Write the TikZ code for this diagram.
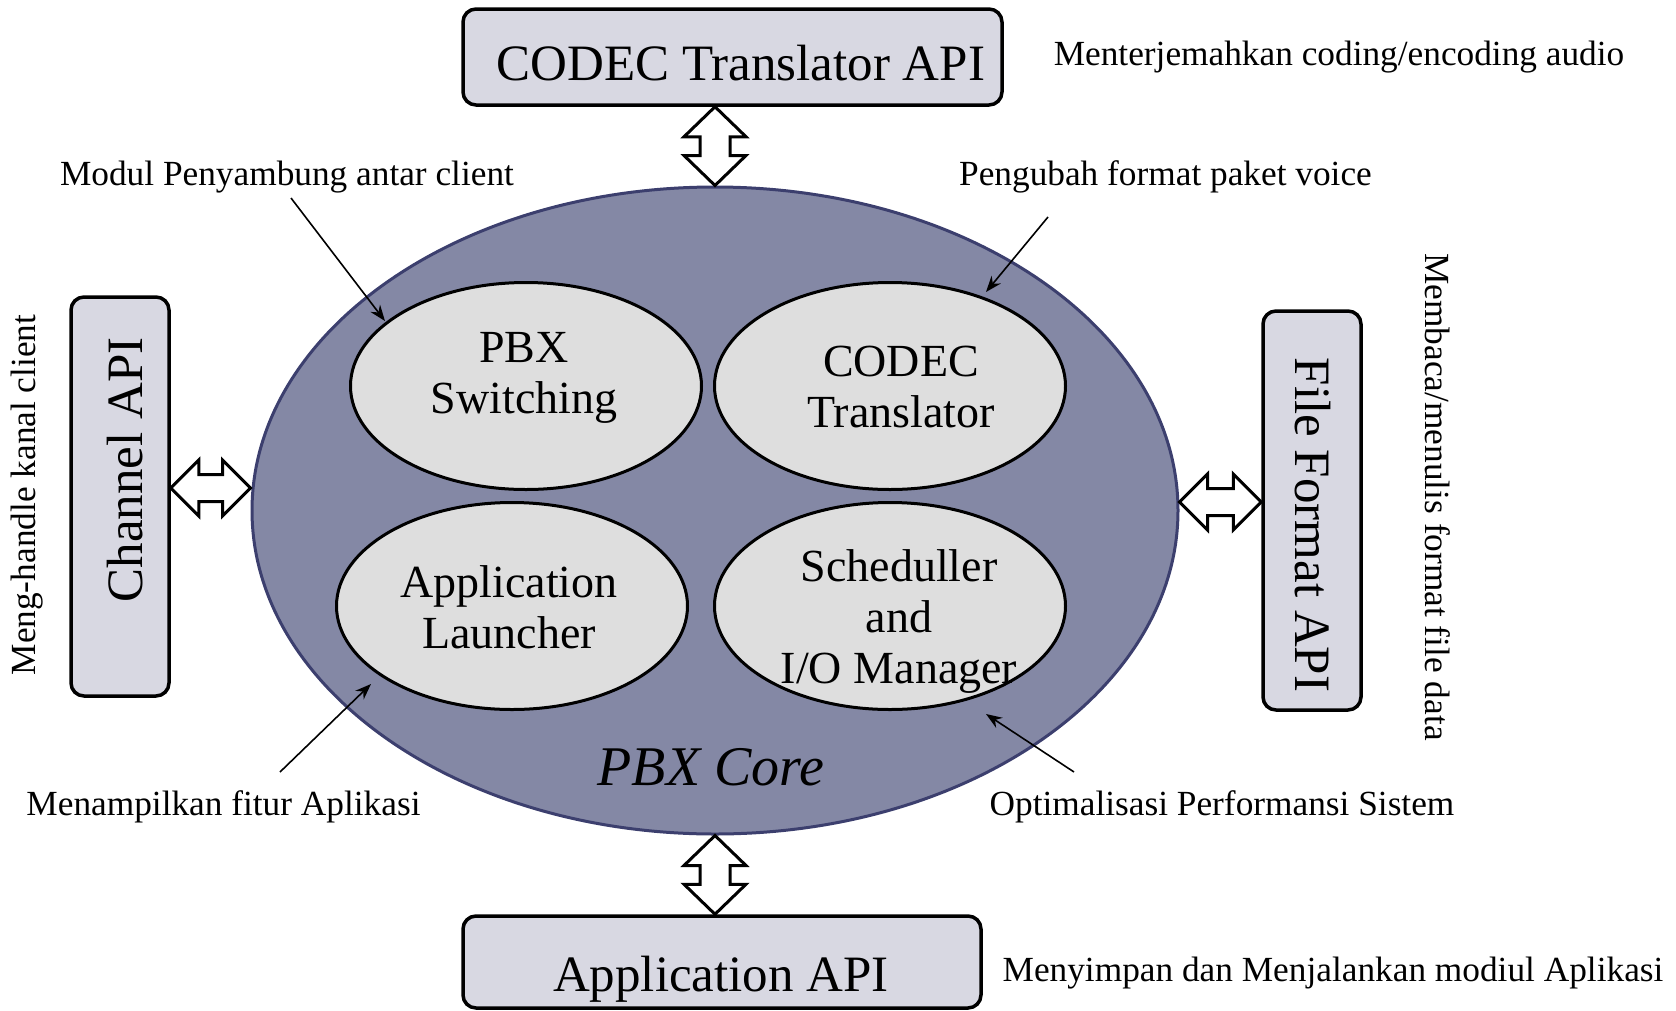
\documentclass[tikz,border=0pt]{standalone}
\usepackage{fontspec}
\setmainfont{Liberation Serif}
\usetikzlibrary{shapes.geometric,arrows.meta,calc}
\definecolor{corefill}{HTML}{8488A5}
\definecolor{coreline}{HTML}{3C3F6E}
\definecolor{boxfill}{HTML}{D8D8E2}
\definecolor{elfill}{HTML}{DEDEDE}
% vertical double arrow: #1 upper end, #2 lower end (x taken from #1)
\newcommand\dblV[2]{\draw[dblarrow] let \p1=#1, \p2=#2 in
  (\x1,\y1) -- (\x1+31pt,\y1-30pt) -- (\x1+15pt,\y1-30pt) -- (\x1+15pt,\y2+30pt) -- (\x1+31pt,\y2+30pt)
  -- (\x1,\y2) -- (\x1-31pt,\y2+30pt) -- (\x1-15pt,\y2+30pt) -- (\x1-15pt,\y1-30pt) -- (\x1-31pt,\y1-30pt) -- cycle;}
% horizontal double arrow: #1 left end, #2 right end (y taken from #1)
\newcommand\dblH[2]{\draw[dblarrow] let \p1=#1, \p2=#2 in
  (\x1,\y1) -- (\x1+28pt,\y1+28pt) -- (\x1+28pt,\y1+13.5pt) -- (\x2-28pt,\y1+13.5pt) -- (\x2-28pt,\y1+28pt)
  -- (\x2,\y1) -- (\x2-28pt,\y1-28pt) -- (\x2-28pt,\y1-13.5pt) -- (\x1+28pt,\y1-13.5pt) -- (\x1+28pt,\y1-28pt) -- cycle;}
\begin{document}
\begin{tikzpicture}[x=1pt,y=-1pt,
  apibox/.style={draw=black, line width=3.5pt, fill=boxfill, rounded corners=13pt, inner sep=0pt},
  apitext/.style={inner sep=0pt, font=\fontsize{51}{56}\selectfont},
  coreell/.style={ellipse, draw=coreline, line width=3pt, fill=corefill, inner sep=0pt,
    minimum width=926pt, minimum height=647pt},
  subell/.style={ellipse, draw=black, line width=3pt, fill=elfill, inner sep=0pt,
    minimum width=351pt, minimum height=207pt},
  subtext/.style={align=center, inner sep=0pt, font=\fontsize{46}{51}\selectfont},
  lbl/.style={inner sep=0pt, font=\fontsize{35.3}{40}\selectfont},
  dblarrow/.style={draw=black, line width=3pt, fill=white, line join=miter},
  pointer/.style={draw=black, line width=1.6pt, -{Stealth[length=16pt,width=12pt]}}]
\useasboundingbox (0,0) rectangle (1676,1010);

% boxes
\node[apibox, minimum width=539pt, minimum height=96pt] (codecapi) at (732.5,57) {};
\node[apibox, minimum width=518pt, minimum height=92pt] (appapi) at (722,962) {};
\node[apibox, rotate=90, minimum width=399pt, minimum height=98pt] (chanapi) at (120,496.5) {};
\node[apibox, rotate=-90, minimum width=399pt, minimum height=98pt] (fileapi) at (1312,510.5) {};
\node[apitext, anchor=base] (codecapit) at (741,80) {CODEC Translator API};
\node[apitext, anchor=base] (appapit) at (721,991) {Application API};
\node[apitext, rotate=90] (chanapit) at (125,470) {Channel API};
\node[apitext, rotate=-90] (fileapit) at (1313,525) {File Format API};

% core
\node[coreell] (core) at (715,510.5) {};
\node[subell] (pbx) at (526,386) {};
\node[subell] (codec) at (890,386) {};
\node[subell] (launch) at (512,606) {};
\node[subell] (sched) at (890,606) {};
\node[subtext] (pbxt) at (524,378) {PBX\\Switching};
\node[subtext] (codect) at (901,387) {CODEC\\Translator};
\node[subtext] (launcht) at (509,607) {Application\\Launcher};
\node[subtext] (schedt) at (899,621) {Scheduller\\and\\I/O Manager};
\node[inner sep=0pt, font=\fontsize{56}{60}\selectfont\itshape] (coret) at (711,767) {PBX Core};

% double arrows
\dblV{(core.north |- codecapi.south)}{(core.north)}
\dblV{(core.south)}{(appapi.north)}
\dblH{($(chanapi.south)+(0,-8.5)$)}{(core.west)}
\dblH{($(core.east)+(0,-8.5)$)}{(fileapi.south)}

% labels
\node[lbl] (l1) at (1339,57) {Menterjemahkan coding/encoding audio};
\node[lbl] (l2) at (287,177) {Modul Penyambung antar client};
\node[lbl] (l3) at (1165.5,177) {Pengubah format paket voice};
\node[lbl] (l4) at (223.5,807) {Menampilkan fitur Aplikasi};
\node[lbl] (l5) at (1222,807) {Optimalisasi Performansi Sistem};
\node[lbl] (l6) at (1333,973) {Menyimpan dan Menjalankan modiul Aplikasi};
\node[lbl, rotate=90] (l7) at (27,495) {Meng-handle kanal client};
\node[lbl, rotate=-90] (l8) at (1438,497) {Membaca/menulis format file data};

% pointers
\coordinate (p2s) at (291,198); \coordinate (p2e) at (385,321);
\coordinate (p3s) at (1048,217); \coordinate (p3e) at (986,292);
\coordinate (p4s) at (280,772); \coordinate (p4e) at (371,684);
\coordinate (p5s) at (1074,772); \coordinate (p5e) at (986,714);
\draw[pointer] (p2s) -- (p2e);
\draw[pointer] (p3s) -- (p3e);
\draw[pointer] (p4s) -- (p4e);
\draw[pointer] (p5s) -- (p5e);
\end{tikzpicture}
\end{document}
